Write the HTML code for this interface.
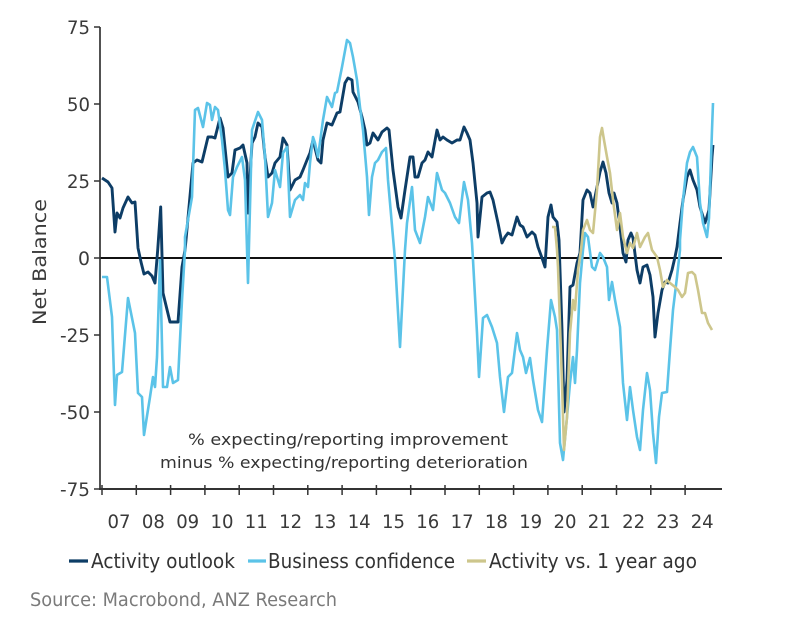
<!DOCTYPE html>
<html>
<head>
<meta charset="utf-8">
<style>
html,body{margin:0;padding:0;background:#fff;}
svg{display:block;}
text{font-family:"DejaVu Sans","Liberation Sans",sans-serif;}
</style>
</head>
<body>
<svg width="800" height="621" viewBox="0 0 800 621" xmlns="http://www.w3.org/2000/svg">
<rect width="800" height="621" fill="#fff"/>

<!-- zero line -->
<line x1="100" y1="258" x2="722" y2="258" stroke="#111" stroke-width="1.9"/>

<!-- series: Activity outlook -->
<polyline fill="none" stroke="#0d3d66" stroke-width="2.9" stroke-linejoin="round" points="
102,178 108,182 112,188 115,232 117,213 120,218 123,208 128,197 132,203 135,202 138,248 141,262 144,274 148,272 152,276 155,283 157.7,250 160.7,207 163,293 170,322 178,322 182,267 185,250 186,240 193,163 197,160 202,162 208,137 212,137 215,138 220,118 223,128 228,177 232,173 235,150 240,148 243,145 247,163 248,213 252,143 255,137 258,123 262,127 265,157 268,177 272,173 275,163 280,157 283,138 287,145 290,190 295,180 300,177 303,170 307,160 310,153 313,140 318,160 321,163 323,140 327,123 332,125 337,113 340,112 345,83 348,78 352,80 353,92 358,102 362,117 365,130 367,145 370,143 373,133 378,140 382,132 387,128 389,130 393,170 398,207 401,218 405,190 410,157 413,157 415,177 418,177 422,163 425,160 428,152 432,157 437,130 440,140 443,137 447,140 452,143 457,140 460,140 464,127 467,133 470,140 473,163 477,203 478,237 482,197 487,193 490,192 493,200 498,223 502,243 505,237 508,233 512,235 517,217 520,225 523,227 527,237 532,232 535,235 538,247 542,258 545,267 548,217 551,205 553,217 557,222 559,240 562,330 564,412 567,380 570,287 573,285 577,263 580,253 583,200 587,190 590,193 593,207 597,187 600,172 603,162 606,173 609,193 612,203 614,193 617,203 620,227 623,253 626,262 628,240 631,233 633,238 637,270 640,283 643,267 647,265 650,275 653,297 655,337 658,313 662,290 665,282 668,283 672,270 675,257 677,247 680,223 683,200 687,177 690,170 693,180 697,190 700,207 705,223 709,210 712,157 713,145"/>

<!-- series: Business confidence -->
<polyline fill="none" stroke="#5bc3e8" stroke-width="2.6" stroke-linejoin="round" points="
102,277 107,277 112,317 115,405 117,375 122,372 128,298 135,333 138,393 142,397 144,435 150,397 153,377 155,387 157,357 160,260 163,387 167,387 170,367 173,383 178,380 182,300 185,250 185,237 192,197 195,110 198,108 203,127 207,103 210,105 212,120 215,107 218,110 222,140 225,170 228,210 230,215 233,177 237,167 242,157 245,180 248,283 252,130 258,112 262,120 265,157 268,217 272,203 275,170 280,187 283,153 287,147 290,217 295,200 300,195 303,200 305,183 308,187 310,163 313,137 315,143 318,157 323,120 327,97 332,107 335,93 337,92 342,67 347,40 350,43 353,57 357,80 360,107 363,130 367,177 369,215 372,177 375,163 378,160 382,152 386,148 388,180 395,260 400,347 405,250 407,223 412,187 415,230 420,243 425,217 428,197 433,210 437,173 442,190 445,193 450,203 455,217 459,223 464,182 468,200 472,243 473,260 477,333 479,377 483,318 487,315 492,327 497,343 500,377 504,412 508,377 512,373 517,333 520,350 523,357 526,373 530,358 533,380 538,410 542,422 547,350 551,300 555,317 557,330 560,443 563,460 567,417 570,383 573,357 575,383 577,350 580,283 583,250 585,233 588,237 592,267 595,270 600,253 603,257 607,267 609,300 612,282 615,300 620,327 623,383 627,420 630,387 633,410 637,437 640,450 643,410 647,373 650,390 653,433 656,463 659,417 662,393 667,392 670,350 673,310 677,277 680,250 680,240 683,200 687,163 690,152 693,147 697,157 700,203 703,223 707,237 709,218 712,130 713,103"/>

<!-- series: Activity vs. 1 year ago -->
<polyline fill="none" stroke="#cdc68c" stroke-width="2.6" stroke-linejoin="round" points="
552,227 555,227 557,250 558,267 562,383 564,450 567,417 570,333 573,300 575,310 578,270 581,250 583,230 587,220 590,230 593,233 597,190 600,137 602,128 604,140 607,157 610,173 613,200 617,230 620,213 623,237 627,253 630,243 633,248 637,233 640,247 645,237 648,233 652,250 657,257 660,270 663,287 667,280 670,283 675,287 678,290 682,297 685,293 688,273 692,272 695,275 698,290 702,313 705,313 708,323 712,330"/>

<!-- axes -->
<line x1="100" y1="27" x2="100" y2="490" stroke="#333" stroke-width="1.7"/>
<line x1="99" y1="489" x2="722" y2="489" stroke="#333" stroke-width="1.9"/>
<g stroke="#333" stroke-width="1.5">
<line x1="94" y1="27" x2="100" y2="27"/>
<line x1="94" y1="104" x2="100" y2="104"/>
<line x1="94" y1="181" x2="100" y2="181"/>
<line x1="94" y1="258" x2="100" y2="258"/>
<line x1="94" y1="335" x2="100" y2="335"/>
<line x1="94" y1="412" x2="100" y2="412"/>
<line x1="94" y1="489" x2="100" y2="489"/>
</g>
<g stroke="#333" stroke-width="1.5">
<line x1="102" y1="485" x2="102" y2="495"/>
<line x1="136.3" y1="485" x2="136.3" y2="495"/>
<line x1="170.6" y1="485" x2="170.6" y2="495"/>
<line x1="204.9" y1="485" x2="204.9" y2="495"/>
<line x1="239.2" y1="485" x2="239.2" y2="495"/>
<line x1="273.5" y1="485" x2="273.5" y2="495"/>
<line x1="307.8" y1="485" x2="307.8" y2="495"/>
<line x1="342.1" y1="485" x2="342.1" y2="495"/>
<line x1="376.4" y1="485" x2="376.4" y2="495"/>
<line x1="410.7" y1="485" x2="410.7" y2="495"/>
<line x1="445" y1="485" x2="445" y2="495"/>
<line x1="479.3" y1="485" x2="479.3" y2="495"/>
<line x1="513.6" y1="485" x2="513.6" y2="495"/>
<line x1="547.9" y1="485" x2="547.9" y2="495"/>
<line x1="582.2" y1="485" x2="582.2" y2="495"/>
<line x1="616.5" y1="485" x2="616.5" y2="495"/>
<line x1="650.8" y1="485" x2="650.8" y2="495"/>
<line x1="685.1" y1="485" x2="685.1" y2="495"/>
</g>

<!-- y tick labels -->
<g fill="#3a3a3a" font-size="19" text-anchor="end">
<text x="90" y="34" textLength="23" lengthAdjust="spacingAndGlyphs">75</text>
<text x="90" y="111" textLength="23" lengthAdjust="spacingAndGlyphs">50</text>
<text x="90" y="188" textLength="23" lengthAdjust="spacingAndGlyphs">25</text>
<text x="90" y="265" textLength="12" lengthAdjust="spacingAndGlyphs">0</text>
<text x="90" y="342" textLength="30" lengthAdjust="spacingAndGlyphs">-25</text>
<text x="90" y="419" textLength="30" lengthAdjust="spacingAndGlyphs">-50</text>
<text x="90" y="496" textLength="30" lengthAdjust="spacingAndGlyphs">-75</text>
</g>

<!-- x tick labels -->
<g fill="#3a3a3a" font-size="19" text-anchor="middle">
<text x="119" y="528" textLength="23" lengthAdjust="spacingAndGlyphs">07</text>
<text x="153.4" y="528" textLength="23" lengthAdjust="spacingAndGlyphs">08</text>
<text x="187.7" y="528" textLength="23" lengthAdjust="spacingAndGlyphs">09</text>
<text x="222" y="528" textLength="23" lengthAdjust="spacingAndGlyphs">10</text>
<text x="256.3" y="528" textLength="23" lengthAdjust="spacingAndGlyphs">11</text>
<text x="290.6" y="528" textLength="23" lengthAdjust="spacingAndGlyphs">12</text>
<text x="324.9" y="528" textLength="23" lengthAdjust="spacingAndGlyphs">13</text>
<text x="359.2" y="528" textLength="23" lengthAdjust="spacingAndGlyphs">14</text>
<text x="393.5" y="528" textLength="23" lengthAdjust="spacingAndGlyphs">15</text>
<text x="427.8" y="528" textLength="23" lengthAdjust="spacingAndGlyphs">16</text>
<text x="462.1" y="528" textLength="23" lengthAdjust="spacingAndGlyphs">17</text>
<text x="496.4" y="528" textLength="23" lengthAdjust="spacingAndGlyphs">18</text>
<text x="530.7" y="528" textLength="23" lengthAdjust="spacingAndGlyphs">19</text>
<text x="565" y="528" textLength="23" lengthAdjust="spacingAndGlyphs">20</text>
<text x="599.3" y="528" textLength="23" lengthAdjust="spacingAndGlyphs">21</text>
<text x="633.6" y="528" textLength="23" lengthAdjust="spacingAndGlyphs">22</text>
<text x="667.9" y="528" textLength="23" lengthAdjust="spacingAndGlyphs">23</text>
<text x="702.2" y="528" textLength="23" lengthAdjust="spacingAndGlyphs">24</text>
</g>

<!-- y axis title -->
<text transform="translate(46,262) rotate(-90)" fill="#3a3a3a" font-size="19" text-anchor="middle" textLength="126" lengthAdjust="spacingAndGlyphs">Net Balance</text>

<!-- annotation -->
<text x="188" y="445" fill="#333" font-size="16" textLength="320" lengthAdjust="spacingAndGlyphs">% expecting/reporting improvement</text>
<text x="160" y="468" fill="#333" font-size="16" textLength="368" lengthAdjust="spacingAndGlyphs">minus % expecting/reporting deterioration</text>

<!-- legend -->
<line x1="69" y1="561" x2="88" y2="561" stroke="#0d3d66" stroke-width="3.2"/>
<text x="91" y="568" fill="#333" font-size="20" textLength="144" lengthAdjust="spacingAndGlyphs">Activity outlook</text>
<line x1="248" y1="561" x2="266" y2="561" stroke="#5bc3e8" stroke-width="3.2"/>
<text x="268" y="568" fill="#333" font-size="20" textLength="187" lengthAdjust="spacingAndGlyphs">Business confidence</text>
<line x1="467" y1="561" x2="486" y2="561" stroke="#cdc68c" stroke-width="3.2"/>
<text x="489" y="568" fill="#333" font-size="20" textLength="208" lengthAdjust="spacingAndGlyphs">Activity vs. 1 year ago</text>

<!-- source -->
<text x="30" y="606" fill="#7a7a7a" font-size="19" textLength="307" lengthAdjust="spacingAndGlyphs">Source: Macrobond, ANZ Research</text>
</svg>
</body>
</html>
